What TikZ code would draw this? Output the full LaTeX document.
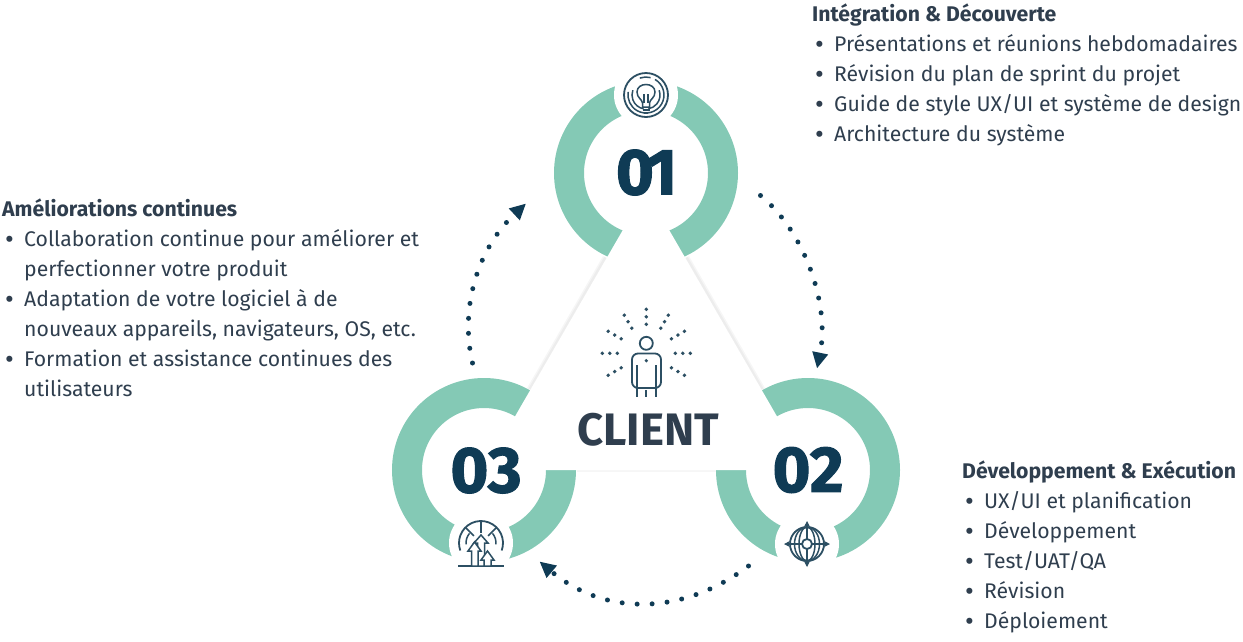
\documentclass[tikz,border=0pt]{standalone}
\usepackage{fontspec}
\setmainfont{Fira Sans}
\newfontfamily\numfont{Fira Sans}[BoldFeatures={FakeBold=1.6}]
\definecolor{Mint}{HTML}{84C9B5}
\definecolor{Navy}{HTML}{0F3B55}
\definecolor{Slate}{HTML}{2F3E4E}
\definecolor{IconBlue}{HTML}{2C4F63}
\usetikzlibrary{arrows.meta, positioning}
\newcommand{\itm}[1]{\hspace*{3pt}\makebox[19pt][l]{\raisebox{-2pt}{\fontsize{27}{30}\selectfont\textbullet}}#1}
\tikzset{
  ring/.style={
    circle, draw=Mint, line width=30pt,
    minimum size=154pt, inner sep=0pt, outer sep=0pt
  },
  gap/.style={circle, fill=white, minimum size=64pt, inner sep=0pt},
  num/.style={font=\fontsize{65}{65}\selectfont\numfont\bfseries, text=Navy, inner sep=0pt},
  block/.style={
    anchor=north west, align=left, inner sep=0pt, text=Slate,
    font=\fontsize{21.2}{30}\selectfont
  },
  dotArr/.style={
    -{Triangle[length=16pt, width=15pt]}, line width=5pt, color=Navy,
    line cap=round, dash pattern=on 0pt off 15pt
  },
  icon/.style={draw=IconBlue, line width=1.5pt},
  soft/.style={black, opacity=0.035},
}

\begin{document}
\begin{tikzpicture}[x=1pt, y=-1pt]
\useasboundingbox (0,0) rectangle (1243,641);

\node[ring] at (646,173) (ring1) {};
\node[ring] at (808,470) (ring2) {};
\node[ring] at (484,470) (ring3) {};

% white gaps for the icons
\node[gap] at (646,95) (icon1) {};
\node[gap] at (807,544) (icon2) {};
\node[gap] at (481,543) (icon3) {};

% triangle, its shadow shows only between the rings
\coordinate (apex) at (646,190);
\coordinate (sl1) at (606.5,258);
\coordinate (sl2) at (530.5,390);
\coordinate (sr1) at (685.5,258);
\coordinate (sr2) at (761.5,390);
\coordinate (sb1) at (577,470);
\coordinate (sb2) at (716,470);
\draw[soft, line width=8pt] (sl1) -- (sl2) (sr1) -- (sr2);
\draw[soft, line width=5pt] (sl1) -- (sl2) (sr1) -- (sr2);
\draw[soft, line width=4pt] (sb1) -- (sb2);
\fill[white] (apex) -- (ring2.center) -- (ring3.center) -- cycle;

\node[num] at (646.5,172.5) (num1) {0\kern-7pt 1};
\node[num] at (808,470) (num2) {02};
\node[num] at (486,470.5) (num3) {03};

\node[font=\fontsize{45.5}{45.5}\selectfont\bfseries, text=Slate, inner sep=0pt] at (648,430) (client) {CLIENT};

% dotted arcs
\coordinate (a1) at (760.5,195.5);
\coordinate (b1) at (817,368.5);
\coordinate (a2) at (748.5,566);
\coordinate (b2) at (539.5,561.5);
\coordinate (a3) at (472.5,363);
\coordinate (b3) at (526,203.5);
\draw[dotArr] (a1) .. controls (805,232) and (830,305) .. (b1);
\draw[dotArr] (a2) .. controls (682,616) and (604.5,616) .. (b2);
\draw[dotArr] (a3) .. controls (460,310) and (476,250) .. (b3);

% person
\coordinate (person) at (646.3,353.3);
\draw[icon, line width=1.8pt] (646.3,343.3) circle[radius=6.5];
\draw[icon, line width=1.8pt, rounded corners=6pt] (637.3,388) -- (632,388) -- (632,353.5) -- (661,353.5) -- (661,388) -- (656,388);
\draw[icon, line width=1.8pt] (637.3,365) -- (637.3,397);
\draw[icon, line width=1.8pt] (656,365) -- (656,397);
\draw[icon, line width=1.8pt] (637.3,388) -- (656,388);
\draw[icon, line width=1.8pt] (646.3,390) -- (646.3,397);
\fill[IconBlue] (646.3,360.7) circle[radius=1.8];
\foreach \ang in {30,0,-30,-60,-90,-120,-150,-180,-210} {
  \foreach \rad in {29,36.5,44} {
    \fill[IconBlue] (person) ++(\ang:\rad) circle[radius=1.9];
  }
}

% icon 01, bulb
\begin{scope}[shift={(icon1.center)}]
\draw[icon, line width=1.8pt] (0,0) circle[radius=22];
\draw[icon] (-60:18) arc[start angle=-60, end angle=190, radius=18];
\draw[icon] (-110:18) arc[start angle=-110, end angle=-75, radius=18];
\draw[icon] (-20:14) arc[start angle=-20, end angle=80, radius=14];
\draw[icon] (100:14) arc[start angle=100, end angle=200, radius=14];
\draw[icon, fill=white] (-3.5,12) -- (-3.5,8) .. controls (-4,4) and (-9,3) .. (-9,-3) .. controls (-9,-13) and (9,-13) .. (9,-3) .. controls (9,3) and (4,4) .. (3.5,8) -- (3.5,12) -- cycle;
\draw[icon] (-2,8) -- (-2,-1) (2,8) -- (2,-1);
\draw[icon] (-3.5,15) -- (3.5,15) (-2,18) -- (2,18);
\end{scope}

% icon 02, globe
\begin{scope}[shift={(icon2.center)}]
\draw[icon, line width=1.8pt] (0,0) circle[radius=17];
\draw[icon] (0,0) circle[x radius=12.5, y radius=17];
\draw[icon] (0,0) circle[x radius=8, y radius=17];
\draw[icon, -{Stealth[length=6pt, width=6pt]}] (0,0) -- (23,0);
\draw[icon, -{Stealth[length=6pt, width=6pt]}] (0,0) -- (-23,0);
\draw[icon, -{Stealth[length=6pt, width=6pt]}] (0,0) -- (0,23);
\draw[icon, -{Stealth[length=6pt, width=6pt]}] (0,0) -- (0,-23);
\draw[icon, fill=white, line width=1.8pt] (0,0) circle[radius=5];
\end{scope}

% icon 03, radar with arrows
\begin{scope}[shift={(icon3.center)}]
\draw[icon, line width=1.8pt] (20:22) arc[start angle=20, end angle=-200, radius=22];
\draw[icon] (5:15) arc[start angle=5, end angle=-40, radius=15];
\draw[icon] (-140:15) arc[start angle=-140, end angle=-185, radius=15];
\draw[icon] (0,-22) -- (0,-10);
\draw[icon] (-45:22) -- (-45:10);
\draw[icon] (-135:22) -- (-135:10);
\draw[icon] (-23,23) -- (23,23);
\draw[icon, fill=white] (0,-8) -- (-7,0) -- (-3.5,0) -- (-3.5,23) -- (3.5,23) -- (3.5,0) -- (7,0) -- cycle;
\draw[icon, fill=white] (-6.5,-1) -- (-13,8) -- (-9.5,8) -- (-9.5,23) -- (-3,23) -- (-3,8) -- (0,8) -- cycle;
\draw[icon, fill=white] (6.5,8) -- (0,17) -- (3,17) -- (3,23) -- (10,23) -- (10,17) -- (13,17) -- cycle;
\end{scope}

% text blocks
\node[block] at (812,3.2) (integ) {
  \textbf{Intégration \& Découverte}\\
  \itm{Présentations et réunions hebdomadaires}\\
  \itm{Révision du plan de sprint du projet}\\
  \itm{Guide de style UX/UI et système de design}\\
  \itm{Architecture du système}
};
\node[block] at (2,198.2) (amelio) {
  \textbf{Améliorations continues}\\
  \itm{Collaboration continue pour améliorer et}\\
  \hspace*{22pt}perfectionner votre produit\\
  \itm{Adaptation de votre logiciel à de}\\
  \hspace*{22pt}nouveaux appareils, navigateurs, OS, etc.\\
  \itm{Formation et assistance continues des}\\
  \hspace*{22pt}utilisateurs
};
\node[block] at (962,460.2) (devel) {
  \textbf{Développement \& Exécution}\\
  \itm{UX/UI et planification}\\
  \itm{Développement}\\
  \itm{Test/UAT/QA}\\
  \itm{Révision}\\
  \itm{Déploiement}
};

\end{tikzpicture}
\end{document}
